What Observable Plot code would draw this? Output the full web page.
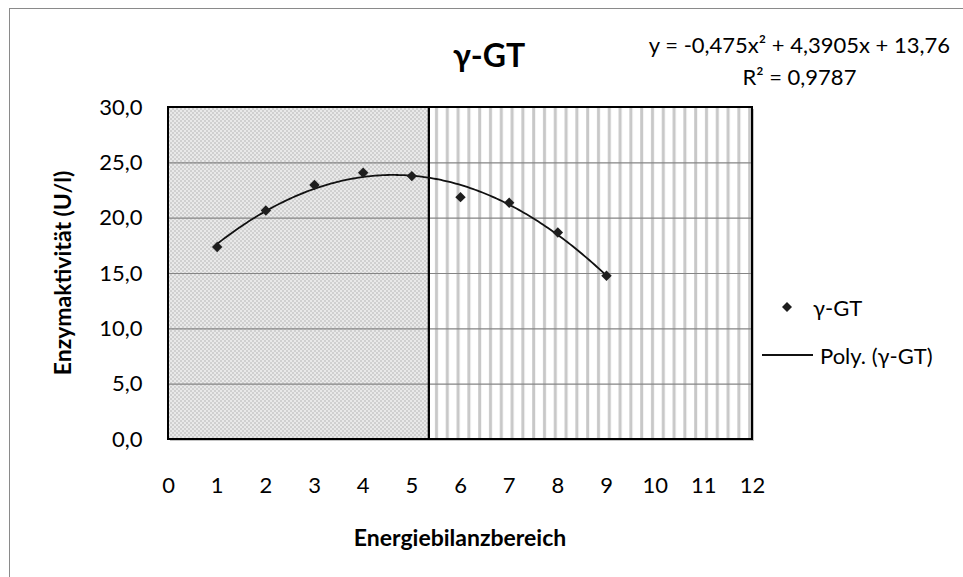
<!DOCTYPE html>
<html>
<head>
<meta charset="utf-8">
<script src="https://cdn.jsdelivr.net/npm/d3@7"></script>
<script src="https://cdn.jsdelivr.net/npm/@observablehq/plot@0.6"></script>
<style>
  html, body { margin: 0; padding: 0; background: #fff; overflow: hidden; }
  #wrap { position: relative; width: 963px; height: 577px; font-family: Lato, "Open Sans", sans-serif; color: #000; }
  .abs { position: absolute; white-space: nowrap; }
</style>
</head>
<body>
<div id="wrap"></div>
<script>
// ---- data ----
const xValues = [1, 2, 3, 4, 5, 6, 7, 8, 9];
const yValues = [17.4, 20.7, 23.0, 24.1, 23.8, 21.9, 21.4, 18.7, 14.8];
const xTicks = [0, 1, 2, 3, 4, 5, 6, 7, 8, 9, 10, 11, 12];
const yTicks = [0, 5, 10, 15, 20, 25, 30];
const zoneSplit = 5.36;          // boundary between the two background zones
const polyCoeffs = [-0.475, 4.3905, 13.76]; // trendline y = a x² + b x + c (from the chart)
const seriesName = "γ-GT";
const trendName = "Poly. (γ-GT)";
const equationText = "y = -0,475x² + 4,3905x + 13,76";
const r2Text = "R² = 0,9787";
const xTitle = "Energiebilanzbereich";
const yTitle = "Enzymaktivität (U/l)";

const points = xValues.map((x, i) => ({x, y: yValues[i]}));
const trend = d3.range(xValues[0], xValues[xValues.length - 1] + 0.001, 0.05)
  .map(x => ({x, y: polyCoeffs[0] * x * x + polyCoeffs[1] * x + polyCoeffs[2]}));
const frameBox = [{x1: xTicks[0], x2: xTicks[xTicks.length - 1], y1: yTicks[0], y2: yTicks[yTicks.length - 1]}];
const leftZone = [{x1: xTicks[0], x2: zoneSplit, y1: yTicks[0], y2: yTicks[yTicks.length - 1]}];
const rightZone = [{x1: zoneSplit, x2: xTicks[xTicks.length - 1], y1: yTicks[0], y2: yTicks[yTicks.length - 1]}];

const chart = Plot.plot({
  width: 963,
  height: 577,
  marginLeft: 168,
  marginRight: 211,
  marginTop: 107,
  marginBottom: 138,
  style: {fontFamily: "Lato, 'Open Sans', sans-serif", fontSize: "22px", color: "#000", background: "transparent"},
  x: {domain: [0, 12], ticks: xTicks, tickSize: 0, tickPadding: 38, label: null, tickFormat: d => String(d)},
  y: {domain: [0, 30], ticks: yTicks, tickSize: 0, tickPadding: 26, label: null,
      tickFormat: d => d.toFixed(1).replace(".", ",")},
  marks: [
    Plot.rect(frameBox, {x1: "x1", x2: "x2", y1: "y1", y2: "y2", fill: "#c4c4c4", dx: 2, dy: 2}),
    Plot.rect(leftZone, {x1: "x1", x2: "x2", y1: "y1", y2: "y2", fill: "url(#chk)"}),
    Plot.rect(rightZone, {x1: "x1", x2: "x2", y1: "y1", y2: "y2", fill: "url(#vst)"}),
    Plot.ruleY(yTicks.slice(1, -1), {stroke: "#858585", strokeWidth: 1.2}),
    Plot.rect(leftZone, {x1: "x1", x2: "x2", y1: "y1", y2: "y2", fill: "none", stroke: "#000", strokeWidth: 2}),
    Plot.rect(rightZone, {x1: "x1", x2: "x2", y1: "y1", y2: "y2", fill: "none", stroke: "#000", strokeWidth: 2}),
    Plot.line(trend, {x: "x", y: "y", stroke: "#111", strokeWidth: 1.8}),
    Plot.dot(points, {x: "x", y: "y", symbol: "diamond2", r: 4.7, fill: "#1e1e1e", stroke: "none"})
  ]
});

// patterns
const ns = "http://www.w3.org/2000/svg";
const defs = document.createElementNS(ns, "defs");
defs.innerHTML = `
  <pattern id="chk" width="4" height="4" patternUnits="userSpaceOnUse">
    <rect width="4" height="4" fill="#e9e9e9"/>
    <rect x="0" y="0" width="2" height="2" fill="#d0d0d0"/>
    <rect x="2" y="2" width="2" height="2" fill="#d0d0d0"/>
  </pattern>
  <pattern id="vst" x="429" width="10.8" height="10" patternUnits="userSpaceOnUse">
    <rect width="10.8" height="10" fill="#ffffff"/>
    <rect x="6" y="0" width="3" height="10" fill="#c8c8c8"/>
  </pattern>`;
chart.insertBefore(defs, chart.firstChild);

const wrap = document.getElementById("wrap");
chart.style.position = "absolute";
chart.style.left = "0px";
chart.style.top = "0px";

// outer chart border (only left/top visible)
const border = document.createElement("div");
border.className = "abs";
border.style.cssText = "left:9px;top:8px;width:1100px;height:700px;border-left:1.5px solid #8a8a8a;border-top:1.5px solid #8a8a8a;";
wrap.appendChild(border);
wrap.appendChild(chart);

function addText(txt, css) {
  const d = document.createElement("div");
  d.className = "abs";
  d.textContent = txt;
  d.style.cssText += css;
  wrap.appendChild(d);
  return d;
}

// title
addText(seriesName, "left:489px;top:54px;transform:translate(-50%,-50%);font-weight:bold;font-size:32px;");
// equation
const eq = document.createElement("div");
eq.className = "abs";
eq.style.cssText = "right:13px;top:29px;text-align:center;font-size:22px;line-height:32px;";
const l1 = document.createElement("div"); l1.textContent = equationText;
const l2 = document.createElement("div"); l2.textContent = r2Text;
eq.appendChild(l1); eq.appendChild(l2);
wrap.appendChild(eq);
// axis titles
addText(xTitle, "left:460px;top:537px;transform:translate(-50%,-50%);font-weight:bold;font-size:23px;");
addText(yTitle, "left:62px;top:273px;transform:translate(-50%,-50%) rotate(-90deg);font-weight:bold;font-size:23px;");

// legend
const leg = document.createElementNS(ns, "svg");
leg.setAttribute("width", "60"); leg.setAttribute("height", "90");
leg.style.cssText = "position:absolute;left:760px;top:290px;";
leg.innerHTML = `<path d="M27,12 L32,17 L27,22 L22,17 Z" fill="#1e1e1e"/>
  <line x1="2" x2="53" y1="65" y2="65" stroke="#111" stroke-width="1.8"/>`;
wrap.appendChild(leg);
addText(seriesName, "left:813px;top:307px;transform:translateY(-50%);font-size:22px;");
addText(trendName, "left:820px;top:355px;transform:translateY(-50%);font-size:22px;");
</script>
</body>
</html>
